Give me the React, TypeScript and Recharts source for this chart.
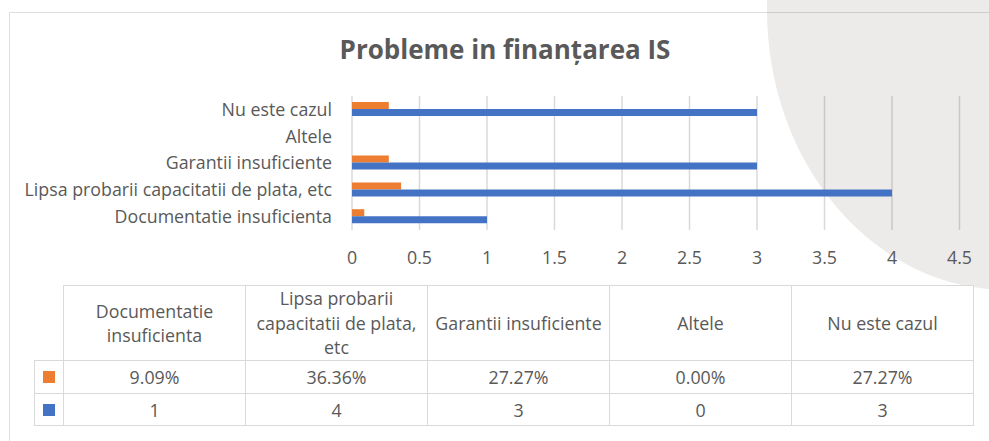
import React from 'react';
import { BarChart, Bar, XAxis, YAxis, CartesianGrid } from 'recharts';

const categories = [
  'Documentatie insuficienta',
  'Lipsa probarii capacitatii de plata, etc',
  'Garantii insuficiente',
  'Altele',
  'Nu este cazul',
];
const percentValues = [0.0909, 0.3636, 0.2727, 0, 0.2727];
const countValues = [1, 4, 3, 0, 3];
const percentLabels = ['9.09%', '36.36%', '27.27%', '0.00%', '27.27%'];
const xTicks = [0, 0.5, 1, 1.5, 2, 2.5, 3, 3.5, 4, 4.5];
const title = 'Probleme in finanțarea IS';

const ORANGE = '#ED7D31';
const BLUE = '#4472C4';
const TEXT = '#595959';
const FONT = '"Open Sans", sans-serif';
const FS = 17.8;

const data = categories.map((c, i) => ({ name: c, pct: percentValues[i], cnt: countValues[i] }));

const border = '1.5px solid #d9d9d9';

export default function App() {
  return (
    <div style={{ position: 'absolute', left: 0, top: 0, width: 989, height: 441, overflow: 'hidden', background: '#fff', fontFamily: FONT }}>
      <div style={{ position: 'absolute', left: 767, top: -270, width: 480, height: 560, borderRadius: '50%', background: '#EDEBE9' }} />
      <div style={{ position: 'absolute', left: 9, top: 12, width: 1100, height: 600, borderTop: '1.5px solid rgba(0,0,0,0.13)', borderLeft: '1.5px solid rgba(0,0,0,0.13)' }} />
      <svg style={{ position: 'absolute', left: 0, top: 0 }} width={989} height={80}>
        <text x={505} y={59} textAnchor="middle" fill={TEXT} fontFamily={FONT} fontWeight={700} fontSize={26}>{title}</text>
      </svg>
      <div style={{ position: 'absolute', left: 0, top: 0 }}>
        <BarChart
          width={989}
          height={280}
          data={data}
          layout="vertical"
          margin={{ top: 96, right: 29.5, bottom: 0, left: 0 }}
          barGap={0}
          barSize={7}
        >
          <CartesianGrid horizontal={false} vertical={true} stroke="rgba(0,0,0,0.15)" strokeWidth={1.5} />
          <XAxis
            type="number"
            domain={[0, 4.5]}
            ticks={xTicks}
            axisLine={false}
            tickLine={false}
            tickSize={0}
            tickMargin={21}
            height={50}
            tick={{ fill: TEXT, fontSize: FS, fontFamily: FONT }}
            interval={0}
          />
          <YAxis
            type="category"
            dataKey="name"
            reversed
            width={352}
            axisLine={false}
            tickLine={false}
            tickSize={0}
            tickMargin={20}
            tick={{ fill: TEXT, fontSize: FS, fontFamily: FONT }}
            interval={0}
          />
          <Bar dataKey="pct" fill={ORANGE} isAnimationActive={false} />
          <Bar dataKey="cnt" fill={BLUE} isAnimationActive={false} />
        </BarChart>
      </div>
      <table
        style={{
          position: 'absolute',
          left: 34,
          top: 285,
          borderCollapse: 'collapse',
          tableLayout: 'fixed',
          fontFamily: FONT,
          fontSize: FS,
          color: TEXT,
          textAlign: 'center',
          background: '#fff',
        }}
      >
        <colgroup>
          <col style={{ width: 29 }} />
          {categories.map((c) => (
            <col key={c} style={{ width: 182 }} />
          ))}
        </colgroup>
        <tbody>
          <tr style={{ height: 75 }}>
            <td style={{ border: 'none', padding: 0 }} />
            {categories.map((c) => (
              <td key={c} style={{ border, padding: '0 4px', lineHeight: '24.5px', verticalAlign: 'middle' }}>{c}</td>
            ))}
          </tr>
          <tr style={{ height: 33 }}>
            <td style={{ border, padding: 0 }}>
              <div style={{ width: 12, height: 12, background: ORANGE, margin: '0 auto' }} />
            </td>
            {percentLabels.map((p, i) => (
              <td key={i} style={{ border, padding: 0 }}>{p}</td>
            ))}
          </tr>
          <tr style={{ height: 32 }}>
            <td style={{ border, padding: 0 }}>
              <div style={{ width: 12, height: 12, background: BLUE, margin: '0 auto' }} />
            </td>
            {countValues.map((v, i) => (
              <td key={i} style={{ border, padding: 0 }}>{v}</td>
            ))}
          </tr>
        </tbody>
      </table>
    </div>
  );
}
